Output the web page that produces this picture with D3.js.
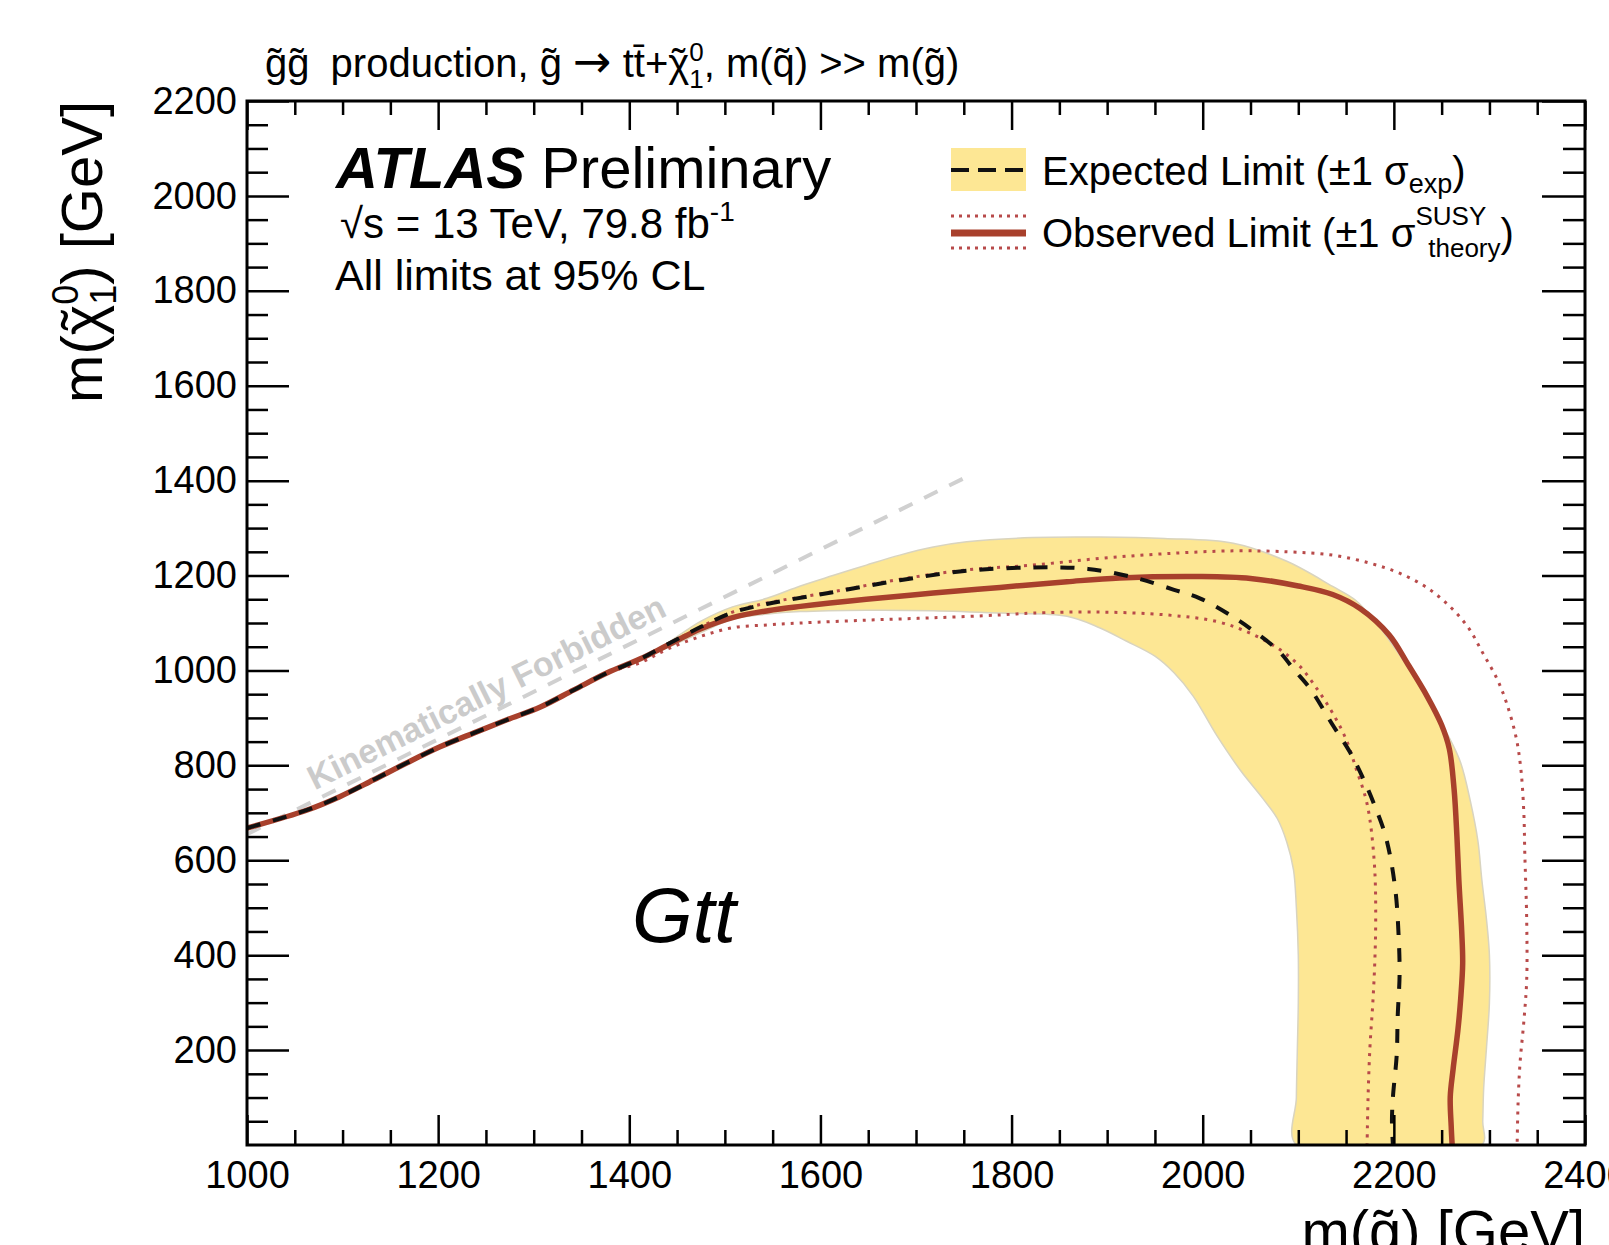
<!DOCTYPE html>
<html>
<head>
<meta charset="utf-8">
<script src="https://cdnjs.cloudflare.com/ajax/libs/d3/7.8.5/d3.min.js"></script>
<style>
  body { margin: 0; background: #fff; }
  svg { display: block; }
</style>
</head>
<body>
<script>
// axis ticks
var xTicks = [1000, 1200, 1400, 1600, 1800, 2000, 2200, 2400];
var yTicks = [200, 400, 600, 800, 1000, 1200, 1400, 1600, 1800, 2000, 2200];

// limit contours, [m(gluino), m(neutralino)] in GeV
var diagonal = [[1000,668],[1063,706],[1097,734],[1132,769],[1167,805],[1202,839],
  [1237,868],[1272,896],[1307,923],[1342,959],[1377,995],[1411,1024]];

var observed = diagonal.concat([[1440,1053],[1475,1088],[1509,1112],[1545,1126],[1579,1135],
  [1648,1150],[1718,1163],[1788,1175],[1858,1187],[1913,1195],[1997,1198],[2050,1194],
  [2100,1178],[2136,1160],[2165,1130],[2195,1075],[2215,1012],[2235,945],[2250,885],
  [2258,835],[2263,750],[2266,650],[2268,558],[2271,450],[2272,383],[2270,310],
  [2267,242],[2262,160],[2259,101],[2260,40],[2261,0]]);

var observedUp = diagonal.concat([[1440,1055],[1475,1092],[1508,1123],[1544,1142],[1613,1166],
  [1683,1192],[1753,1212],[1822,1222],[1892,1236],[1960,1246],[2032,1252],[2090,1250],
  [2136,1243],[2175,1226],[2206,1205],[2235,1174],[2259,1134],[2278,1090],[2293,1037],
  [2308,982],[2318,931],[2328,858],[2333,790],[2336,700],[2337,615],[2339,474],
  [2339,348],[2336,260],[2332,172],[2330,90],[2329,0]]);

var observedDown = diagonal.slice(0, 11).concat([[1411,1016],[1440,1045],[1475,1072],
  [1508,1090],[1545,1096],[1579,1100],[1648,1106],[1718,1111],[1788,1117],[1822,1121],
  [1892,1123],[1962,1117],[2015,1103],[2049,1079],[2080,1045],[2102,1008],[2120,960],
  [2136,910],[2150,855],[2161,790],[2170,735],[2175,685],[2180,580],[2181,474],
  [2180,383],[2178,300],[2175,207],[2173,100],[2172,0]]);

var expected = diagonal.concat([[1440,1055],[1475,1092],[1508,1122],[1544,1140],[1613,1165],
  [1683,1190],[1753,1210],[1822,1217],[1880,1214],[1930,1195],[1970,1170],[1997,1152],
  [2030,1115],[2052,1085],[2080,1040],[2095,1003],[2113,960],[2136,885],[2154,828],
  [2168,772],[2180,715],[2190,660],[2196,610],[2202,530],[2205,440],[2206,360],
  [2204,270],[2203,190],[2199,100],[2198,50],[2199,0]]);

var expectedUp = diagonal.concat([[1440,1058],[1475,1104],[1508,1134],[1544,1152],[1579,1178],
  [1613,1200],[1648,1222],[1683,1243],[1718,1260],[1753,1271],[1822,1280],[1892,1281],
  [1960,1278],[2032,1268],[2088,1230],[2136,1177],[2160,1148],[2180,1104],[2200,1050],
  [2220,990],[2240,920],[2258,858],[2270,805],[2280,725],[2288,640],[2292,560],
  [2297,474],[2300,400],[2300,300],[2297,207],[2294,120],[2293,50],[2292,0]]);

var expectedDown = diagonal.concat([[1440,1048],[1475,1080],[1508,1108],[1545,1119],[1579,1124],
  [1648,1127],[1718,1126],[1788,1121],[1858,1114],[1892,1090],[1920,1062],[1950,1030],
  [1970,995],[1990,946],[2015,862],[2040,788],[2063,730],[2078,688],[2088,638],
  [2095,580],[2098,500],[2100,400],[2100,300],[2099,200],[2098,100],[2098,0]]);

// m(chi) = m(g) - 2 m(top)
var kinematic = [[1000,655],[1750,1405]];

var FONT = "'Liberation Sans', Arial, Helvetica, sans-serif";
var W = 1609, H = 1245;
var m = {l: 247, r: 1585, t: 101, b: 1145};

var svg = d3.select("body").append("svg")
  .attr("width", W)
  .attr("height", H)
  .attr("font-family", FONT);

var x = d3.scaleLinear().domain([1000, 2400]).range([m.l, m.r]);
var y = d3.scaleLinear().domain([0, 2200]).range([m.b, m.t]);

svg.append("clipPath").attr("id", "plot")
  .append("rect")
  .attr("x", m.l).attr("y", m.t)
  .attr("width", m.r - m.l).attr("height", m.b - m.t);

var line = d3.line()
  .x(function(d) { return x(d[0]); })
  .y(function(d) { return y(d[1]); })
  .curve(d3.curveCatmullRom.alpha(0.5));

var plot = svg.append("g").attr("clip-path", "url(#plot)");

// expected +-1 sigma band
plot.append("path")
  .attr("d", line(expectedUp.concat(expectedDown.slice().reverse())) + "Z")
  .attr("fill", "#fde794")
  .attr("stroke", "#d9d4bf")
  .attr("stroke-width", 1.5);

// kinematic limit
plot.append("path")
  .attr("d", line(kinematic))
  .attr("fill", "none")
  .attr("stroke", "#d0d0d0")
  .attr("stroke-width", 4)
  .attr("stroke-dasharray", "15,13");

var ang = Math.atan2(y(kinematic[1][1]) - y(kinematic[0][1]),
                     x(kinematic[1][0]) - x(kinematic[0][0])) * 180 / Math.PI;
svg.append("text")
  .attr("transform", "translate(" + x(1075) + "," + y(1075 - 345) + ") rotate(" + ang + ")")
  .attr("y", -9)
  .attr("font-size", 34)
  .attr("font-weight", "bold")
  .attr("fill", "#cbcbcb")
  .text("Kinematically Forbidden");

[observedUp, observedDown].forEach(function(c) {
  plot.append("path")
    .attr("d", line(c))
    .attr("fill", "none")
    .attr("stroke", "#b84a4a")
    .attr("stroke-width", 3)
    .attr("stroke-dasharray", "3,6");
});

plot.append("path")
  .attr("d", line(observed))
  .attr("fill", "none")
  .attr("stroke", "#a8402c")
  .attr("stroke-width", 5.5);

plot.append("path")
  .attr("d", line(expected))
  .attr("fill", "none")
  .attr("stroke", "#111")
  .attr("stroke-width", 4)
  .attr("stroke-dasharray", "14,13");

// axes, ROOT style: ticks inside on all four sides
var minorX = d3.range(1000, 2401, 50).filter(function(v) { return v % 200 != 0; });
var minorY = d3.range(0, 2201, 50).filter(function(v) { return v % 200 != 0; });

function style(g) {
  g.select(".domain").remove();
  g.attr("font-size", 38).attr("font-family", FONT);
  g.selectAll(".tick line").attr("stroke-width", 2.5);
}

svg.append("g").attr("transform", "translate(0," + m.b + ")")
  .call(d3.axisBottom(x).tickValues(xTicks).tickSize(-30).tickPadding(16).tickFormat(d3.format("d")))
  .call(style);
svg.append("g").attr("transform", "translate(0," + m.b + ")")
  .call(d3.axisBottom(x).tickValues(minorX).tickSize(-15).tickFormat(""))
  .call(style);
svg.append("g").attr("transform", "translate(0," + m.t + ")")
  .call(d3.axisTop(x).tickValues(xTicks).tickSize(-29).tickFormat(""))
  .call(style);
svg.append("g").attr("transform", "translate(0," + m.t + ")")
  .call(d3.axisTop(x).tickValues(minorX).tickSize(-14).tickFormat(""))
  .call(style);
svg.append("g").attr("transform", "translate(" + m.l + ",0)")
  .call(d3.axisLeft(y).tickValues(yTicks).tickSize(-42).tickPadding(10).tickFormat(d3.format("d")))
  .call(style);
svg.append("g").attr("transform", "translate(" + m.l + ",0)")
  .call(d3.axisLeft(y).tickValues(minorY).tickSize(-21).tickFormat(""))
  .call(style);
svg.append("g").attr("transform", "translate(" + m.r + ",0)")
  .call(d3.axisRight(y).tickValues(yTicks).tickSize(-43).tickFormat(""))
  .call(style);
svg.append("g").attr("transform", "translate(" + m.r + ",0)")
  .call(d3.axisRight(y).tickValues(minorY).tickSize(-22).tickFormat(""))
  .call(style);

svg.append("rect")
  .attr("x", m.l).attr("y", m.t)
  .attr("width", m.r - m.l).attr("height", m.b - m.t)
  .attr("fill", "none")
  .attr("stroke", "#000")
  .attr("stroke-width", 3);

// chi with a tilde on top; returns the dx the next tspan needs
function chiTilde(t) {
  var chi = t.append("tspan").text("\u03c7");
  var til = t.append("tspan").text("\u02dc");
  var cw = chi.node().getComputedTextLength();
  var tw = til.node().getComputedTextLength();
  til.attr("dx", -(cw + tw) / 2);
  return (cw - tw) / 2;
}

// axis titles
svg.append("text")
  .attr("x", m.r).attr("y", 1251)
  .attr("text-anchor", "end")
  .attr("font-size", 58)
  .text("m(g\u0303) [GeV]");

var yl = svg.append("text")
  .attr("transform", "translate(102," + m.t + ") rotate(-90)")
  .attr("text-anchor", "end")
  .attr("font-size", 58);
yl.append("tspan").text("m(");
var dxy = chiTilde(yl);
yl.append("tspan").attr("font-size", 36).attr("dx", dxy).attr("dy", -24).text("0");
yl.append("tspan").attr("font-size", 36).attr("dx", -20).attr("dy", 38).text("1");
yl.append("tspan").attr("dy", -14).text(") [GeV]");

// title above the frame
var tt = svg.append("text").attr("x", 265).attr("y", 77).attr("font-size", 40);
tt.append("tspan").text("g\u0303g\u0303");
tt.append("tspan").attr("dx", 10).text(" production, g\u0303 ");
tt.append("tspan").attr("font-family", "'DejaVu Sans'").attr("font-size", 46).text("\u2192");
tt.append("tspan").text(" tt\u0304+");
var dxt = chiTilde(tt);
tt.append("tspan").attr("font-size", 26).attr("dx", dxt).attr("dy", -16).text("0");
tt.append("tspan").attr("font-size", 26).attr("dx", -14.5).attr("dy", 27).text("1");
tt.append("tspan").attr("dy", -11).text(", m(q\u0303) >> m(g\u0303)");

// ATLAS label
var atl = svg.append("text").attr("x", 336).attr("y", 188).attr("font-size", 58);
atl.append("tspan").attr("font-weight", "bold").attr("font-style", "italic").text("ATLAS");
atl.append("tspan").text(" Preliminary");

var lumi = svg.append("text").attr("x", 340).attr("y", 238).attr("font-size", 42);
lumi.append("tspan").text("\u221as = 13 TeV, 79.8 fb");
lumi.append("tspan").attr("font-size", 28).attr("dy", -17).text("-1");

svg.append("text").attr("x", 335).attr("y", 290).attr("font-size", 43)
  .text("All limits at 95% CL");

svg.append("text").attr("x", 632).attr("y", 942)
  .attr("font-size", 78).attr("font-style", "italic")
  .text("Gtt");

// legend
var lg = svg.append("g");
lg.append("rect").attr("x", 951).attr("y", 148).attr("width", 75).attr("height", 43)
  .attr("fill", "#fde794");
lg.append("line").attr("x1", 951).attr("x2", 1026).attr("y1", 170).attr("y2", 170)
  .attr("stroke", "#111").attr("stroke-width", 4).attr("stroke-dasharray", "18,9");
[216, 248].forEach(function(yy) {
  lg.append("line").attr("x1", 951).attr("x2", 1026).attr("y1", yy).attr("y2", yy)
    .attr("stroke", "#b84a4a").attr("stroke-width", 3).attr("stroke-dasharray", "3,5");
});
lg.append("line").attr("x1", 951).attr("x2", 1026).attr("y1", 233).attr("y2", 233)
  .attr("stroke", "#a8402c").attr("stroke-width", 7);

var le = lg.append("text").attr("x", 1042).attr("y", 185).attr("font-size", 40);
le.append("tspan").text("Expected Limit (\u00b11 \u03c3");
le.append("tspan").attr("font-size", 27).attr("dy", 8).text("exp");
le.append("tspan").attr("dy", -8).text(")");

var lo = lg.append("text").attr("x", 1042).attr("y", 247).attr("font-size", 40);
lo.append("tspan").text("Observed Limit (\u00b11 \u03c3");
lo.append("tspan").attr("font-size", 26).attr("dy", -22).text("SUSY");
lo.append("tspan").attr("font-size", 26).attr("dx", -58).attr("dy", 32).text("theory");
lo.append("tspan").attr("dy", -10).text(")");
</script>
</body>
</html>
